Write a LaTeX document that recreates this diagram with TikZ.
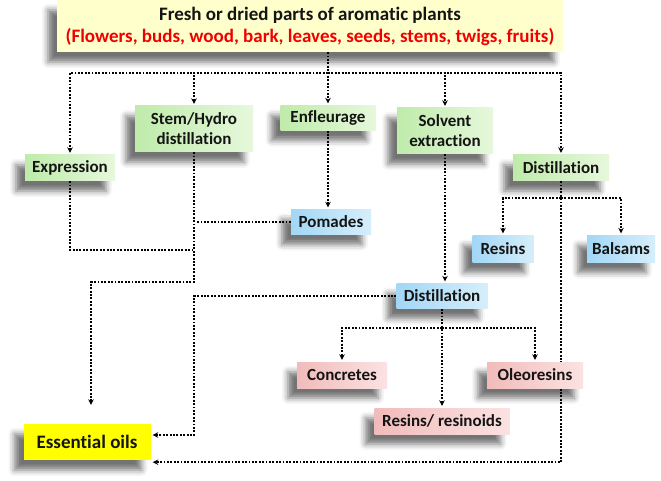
\documentclass[tikz,border=0pt]{standalone}
\usepackage{fontspec}
\setmainfont{Carlito}[Ligatures=NoCommon]
\usetikzlibrary{arrows.meta,shadows.blur}
\definecolor{grnL}{HTML}{BFEBAA}
\definecolor{grnR}{HTML}{E6F8DC}
\definecolor{bluL}{HTML}{A2D7F6}
\definecolor{bluR}{HTML}{D6EEFB}
\definecolor{pnkL}{HTML}{F2BBBB}
\definecolor{pnkR}{HTML}{FBE2E2}
\definecolor{srcY}{HTML}{FFFFCC}
\definecolor{oilY}{HTML}{FFFF00}
\definecolor{redT}{HTML}{F00000}
\pgfdeclarelayer{bg}
\pgfsetlayers{bg,main}
\tikzset{
	box/.style={inner sep=0pt, align=center, text=black!92, minimum height=26pt,
		font=\bfseries\fontsize{17}{20}\selectfont,
		blur shadow={shadow xshift=-9pt, shadow yshift=-10pt, shadow blur radius=6pt, shadow opacity=55}},
	grnbox/.style={box, left color=grnL, right color=grnR},
	blubox/.style={box, left color=bluL, right color=bluR},
	pnkbox/.style={box, left color=pnkL, right color=pnkR},
	flow/.style={line width=1.9pt, dash pattern=on 1.9pt off 1.5pt, shorten >=2pt,
		>={Stealth[length=5.5pt,width=5.5pt]}}
}
\begin{document}
\begin{tikzpicture}[x=1pt,y=-1pt]
	\useasboundingbox (0,0) rectangle (661,481);
	% source
	\node[box, fill=srcY, minimum width=506pt, minimum height=52pt,
		font=\bfseries\fontsize{19}{22}\selectfont] (src) at (310,26)
		{Fresh or dried parts of aromatic plants\\
		\textcolor{redT}{(Flowers, buds, wood, bark, leaves, seeds, stems, twigs, fruits)}};
	% methods
	\node[grnbox, minimum width=90pt] (expr) at (70,168) {Expression};
	\node[grnbox, minimum width=118pt, minimum height=46pt] (stem) at (194,129) {Stem/Hydro\\distillation};
	\node[grnbox, minimum width=95pt, minimum height=25pt] (enfl) at (328,118) {Enfleurage};
	\node[grnbox, minimum width=96pt, minimum height=46pt] (solv) at (445,131) {Solvent\\extraction};
	\node[grnbox, minimum width=96pt] (dist1) at (561,168) {Distillation};
	% products
	\node[blubox, minimum width=80pt, minimum height=25pt] (pom) at (331,222) {Pomades};
	\node[blubox, minimum width=61pt, minimum height=27pt] (resA) at (503,249) {Resins};
	\node[blubox, minimum width=68pt, minimum height=27pt] (bals) at (621,249) {Balsams};
	\node[blubox, minimum width=91pt, minimum height=25pt] (dist2) at (442,296) {Distillation};
	\node[pnkbox, minimum width=90pt] (conc) at (342,375) {Concretes};
	\node[pnkbox, minimum width=96pt] (oleo) at (535,375) {Oleoresins};
	\node[pnkbox, minimum width=135pt] (resn) at (442,421) {Resins/ resinoids};
	\node[box, fill=oilY, minimum width=127pt, minimum height=36pt,
		font=\bfseries\fontsize{19}{22}\selectfont] (oils) at (87,442) {Essential oils};
	% junctions
	\coordinate (b1) at (328,73);
	\coordinate (b2) at (442,328);
	\coordinate (b3) at (561,198);
	\coordinate (j1) at (91,282);
	\coordinate (j2) at (194,250);
	\begin{pgfonlayer}{bg}
		\draw[flow,->] (src.south -| enfl) -- (enfl.north);
		\foreach \m in {expr,stem,solv,dist1} \draw[flow,->] (b1) -| (\m.north);
		\draw[flow,->] (enfl.south) -- (enfl.south |- pom.north);
		\draw[flow] (pom.west) -- (pom.west -| stem.south);
		\draw[flow] (expr.south) |- (j2);
		\draw[flow,->,shorten >=19pt] (stem.south) |- (j1) -- (j1 |- oils.north);
		\draw[flow,->] (solv.south) -- (solv.south |- dist2.north);
		\draw[flow,->] (dist2.west) -- (dist2.west -| stem.south) |- ([yshift=7pt]oils.east);
		\draw[flow,->] (dist2.south) -- (resn.north);
		\foreach \m in {conc,oleo} \draw[flow,->] (b2) -| (\m.north);
		\foreach \m in {resA,bals} \draw[flow,->] (b3) -| (\m.north);
		\draw[flow,->] (dist1.south) |- ([yshift=-2pt]oils.south east);
	\end{pgfonlayer}
\end{tikzpicture}
\end{document}
